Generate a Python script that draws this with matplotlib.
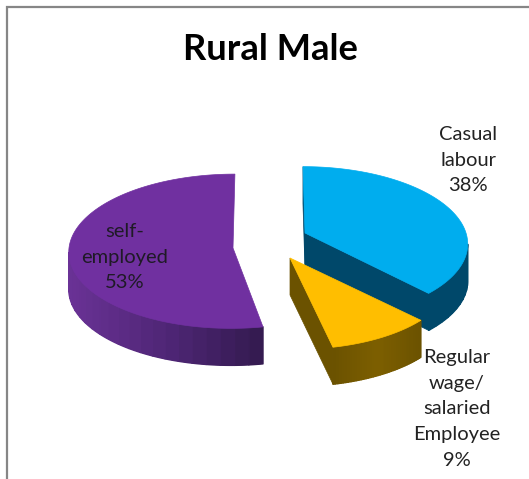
import numpy as np
import matplotlib
matplotlib.use("Agg")
import matplotlib.pyplot as plt
from matplotlib.patches import Polygon
from matplotlib.collections import PolyCollection
from matplotlib.colors import to_rgb

title = "Rural Male"
categories = ["Casual\nlabour", "Regular\nwage/\nsalaried\nEmployee", "self-\nemployed"]
shares = [38, 9, 53]
top_colors = ["#00ADEE", "#FFBE00", "#7030A0"]
wall_left = ["#00486A", "#6B5200", "#6A3296"]
wall_mid = ["#00486A", "#7D5F00", "#4F2676"]
wall_right = ["#00486A", "#6B5200", "#331A4E"]

# slice geometry in pixels: apex x, apex y, radius x, radius y, perspective, shear
apex = [(305, 233), (290, 258), (233, 248)]
radii = [(161, 75), (158, 73), (164, 77)]
persp = [0.13, 0.20, 0.042]
shear = [-2.3, -5.0, 2.0]
depth = 37
label_pos = [(468, 160), (457, 409), (125, 257)]

W, H = 529, 479
fig = plt.figure(figsize=(W / 100, H / 100), dpi=100, facecolor="white")
ax = fig.add_axes([0, 0, 1, 1])
ax.set_xlim(0, W)
ax.set_ylim(H, 0)
ax.axis("off")

# frame of the pasted chart
ax.plot([7, 7, W], [H, 7, 7], color="#868686", lw=1.6, solid_joinstyle="miter")


def edge(i, th):
    u, v = np.sin(th), np.cos(th)
    s = 1 / (1 + persp[i] * v)
    return apex[i][0] + (radii[i][0] * u + shear[i] * v) * s, apex[i][1] - radii[i][1] * v * s


fracs = np.cumsum([0] + shares) / sum(shares) * 2 * np.pi


def lerp(i, t):
    a, b, c = map(lambda s: np.array(to_rgb(s[i])), (wall_left, wall_mid, wall_right))
    return a + (b - a) * t * 2 if t < .5 else b + (c - b) * (t - .5) * 2


for i, cat in enumerate(categories):
    th0, th1 = fracs[i], fracs[i + 1]
    th = np.linspace(th0, th1, 240)
    x, y = edge(i, th)
    ax_, ay = apex[i]
    zo = 2 + i

    # side wall, only where the rim faces the viewer
    if i == 0:
        xv, yv = x[np.argmax(x):], y[np.argmax(x):]
    elif i == 2:
        xv, yv = x[:np.argmin(x) + 1], y[:np.argmin(x) + 1]
    else:
        xv, yv = x, y
    xlo, span = xv.min(), max(xv.max() - xv.min(), 1)
    # solid underlay keeps the outline clean, the strips add the shading
    ax.add_patch(Polygon(np.r_[np.c_[xv, yv], np.c_[xv, yv + depth][::-1]], closed=True,
                         fc=wall_mid[i], ec="none", zorder=zo))
    step = 6
    quads, cols = [], []
    for k in range(0, len(xv) - 1, step):
        e = min(k + step, len(xv) - 1)
        quads.append(np.r_[np.c_[xv[k:e + 1], yv[k:e + 1]],
                           np.c_[xv[k:e + 1], yv[k:e + 1] + depth][::-1]])
        cols.append(lerp(i, ((xv[k] + xv[e]) / 2 - xlo) / span))
    ax.add_collection(PolyCollection(quads, facecolors=cols, edgecolors=cols,
                                     linewidths=1.0, zorder=zo))

    # cut faces
    for tt, xe, ye in [(th0, x[0], y[0]), (th1, x[-1], y[-1])]:
        if (i == 0) or (i == 1 and tt == th1):
            ax.add_patch(Polygon([(ax_, ay), (xe, ye), (xe, ye + depth), (ax_, ay + depth)],
                                 closed=True, fc=wall_left[i], ec=wall_left[i], lw=0.5, zorder=zo))
    # top face
    ax.add_patch(Polygon(np.r_[[(ax_, ay)], np.c_[x, y]], closed=True,
                         fc=top_colors[i], ec=top_colors[i], lw=0.5, zorder=zo + 0.5))
    # label
    ax.text(label_pos[i][0], label_pos[i][1], f"{cat}\n{shares[i]}%", ha="center", va="center",
            family="Lato", fontsize=14.5, color="#1f1a26" if i == 2 else "#222222",
            linespacing=1.62, zorder=10)

ax.text(270, 49, title, ha="center", va="center", family="Lato",
        fontweight="bold", fontsize=26.2, color="#000000", zorder=10)

fig.savefig("out.png", dpi=100, facecolor="white")
